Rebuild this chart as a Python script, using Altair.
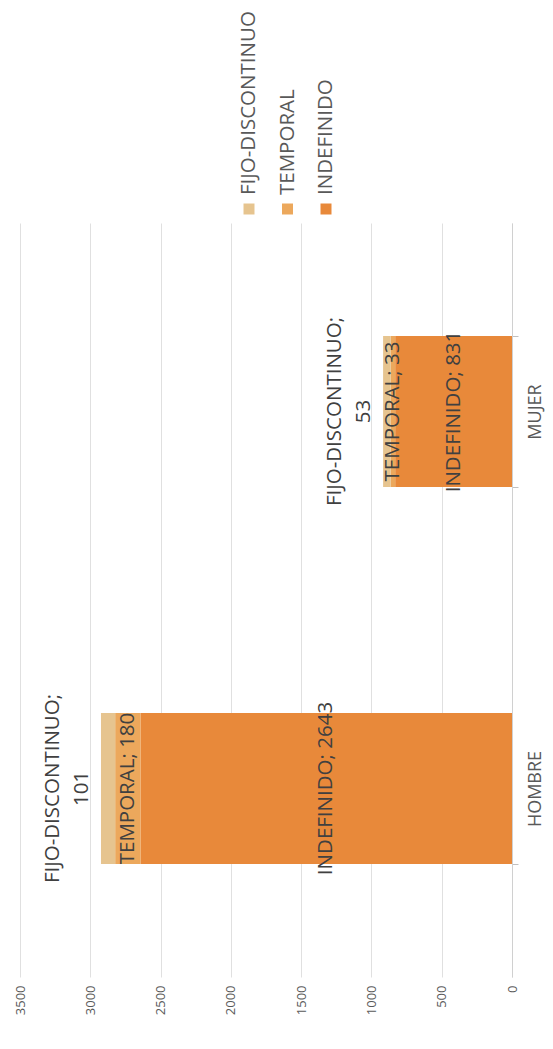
import altair as alt
import pandas as pd

categories = ["HOMBRE", "MUJER"]
series = ["INDEFINIDO", "TEMPORAL", "FIJO-DISCONTINUO"]
indefinido = [2643, 831]
temporal = [180, 33]
fijo = [101, 53]
colors = ["#E8893A", "#ECA85C", "#E6C48F"]
legend_order = ["FIJO-DISCONTINUO", "TEMPORAL", "INDEFINIDO"]
axis_ticks = [0, 500, 1000, 1500, 2000, 2500, 3000, 3500]

rows = []
for i, c in enumerate(categories):
    start = 0
    for k, (s, vals) in enumerate(zip(series, [indefinido, temporal, fijo])):
        v = vals[i]
        rows.append(dict(cat=c, serie=s, v=v, start=start, end=start + v,
                         mid=start + v / 2, order=k,
                         label=f"{s}; {v}",
                         name=f"{s};", val=f"{v}"))
        start += v
df = pd.DataFrame(rows)
leg = pd.DataFrame({"serie": legend_order})

FONT = "Open Sans"

xscale = alt.Scale(domain=[0, 3500], reverse=True, nice=False)
yscale = alt.Scale(domain=["MUJER", "HOMBRE"], paddingInner=0.6, paddingOuter=0.3)
cscale = alt.Scale(domain=series, range=colors)

base = alt.Chart(df)

bars = base.mark_bar().encode(
    y=alt.Y("cat:N", scale=yscale, title=None,
            axis=alt.Axis(orient="right", labelAngle=270, labelAlign="center",
                          labelBaseline="top", labelFontSize=18, labelFont=FONT,
                          labelColor="#595959", labelPadding=8,
                          domainColor="#D0D0D0", tickColor="#C0C0C0",
                          tickSize=6, tickBand="extent", grid=False)),
    x=alt.X("start:Q", scale=xscale, title=None,
            axis=alt.Axis(values=axis_ticks, format="d", labelAngle=270,
                          labelFontSize=13, labelFont=FONT, labelColor="#595959",
                          labelPadding=8, grid=True, gridColor="#E0E0E0",
                          domain=False, ticks=False)),
    x2="end:Q",
    color=alt.Color("serie:N", scale=cscale, legend=None),
    order=alt.Order("order:Q"),
)

text_style = dict(angle=270, align="center", baseline="middle", fontSize=20.5,
                  font=FONT, color="#404040")

inner = base.transform_filter(alt.datum.serie != "FIJO-DISCONTINUO").mark_text(
    **text_style
).encode(
    y=alt.Y("cat:N", scale=yscale),
    x=alt.X("mid:Q", scale=xscale),
    text="label:N",
)

outer_fijo = base.transform_filter(alt.datum.serie == "FIJO-DISCONTINUO")
outer1 = outer_fijo.mark_text(dy=-48, **text_style).encode(
    y=alt.Y("cat:N", scale=yscale),
    x=alt.X("end:Q", scale=xscale),
    text="name:N",
)
outer2 = outer_fijo.mark_text(dy=-19, **text_style).encode(
    y=alt.Y("cat:N", scale=yscale),
    x=alt.X("end:Q", scale=xscale),
    text="val:N",
)

leg_x = alt.X("serie:N", sort=legend_order,
              scale=alt.Scale(domain=legend_order, range=[229, 306], padding=0),
              axis=None)

leg_sq = alt.Chart(leg).mark_square(size=121, opacity=1).encode(
    x=leg_x, y=alt.value(-14),
    color=alt.Color("serie:N", scale=cscale, legend=None),
)
leg_tx = alt.Chart(leg).mark_text(
    angle=270, align="left", baseline="middle", fontSize=20.5, font=FONT,
    color="#595959"
).encode(
    x=leg_x, y=alt.value(-28), text="serie:N",
)

main = alt.layer(bars, inner, outer1, outer2)
chart = alt.layer(main, leg_sq, leg_tx).resolve_scale(x="independent").properties(
    width=492, height=754,
    autosize=alt.AutoSizeParams(type="none"),
    padding={"left": 12, "top": 215, "right": 33, "bottom": 64},
).configure_view(stroke=None)

chart.save("out.html", embed_options={"renderer": "svg", "actions": False})
